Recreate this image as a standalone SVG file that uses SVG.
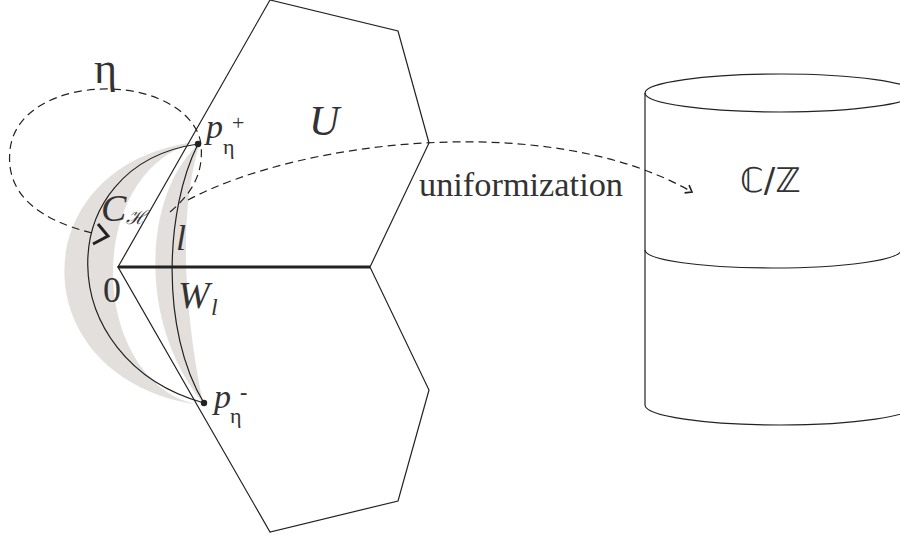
<svg xmlns="http://www.w3.org/2000/svg" width="900" height="537" viewBox="0 0 900 537">
<style>
.ln{fill:none;stroke:#222;stroke-width:1.2}
.dash{fill:none;stroke:#222;stroke-width:1.2;stroke-dasharray:8 5}
.band{fill:#e3dfdc;stroke:none}
text{font-family:"Liberation Serif","DejaVu Serif",serif;fill:#333}
.i{font-style:italic}
.dj{font-family:"DejaVu Serif",serif}
.ds{font-family:"DejaVu Sans",sans-serif}
</style>
<defs>
<marker id="chev" markerWidth="12" markerHeight="12" refX="9" refY="6" orient="auto" markerUnits="userSpaceOnUse">
<path d="M3,1.5 L9,6 L3,10.5" fill="none" stroke="#222" stroke-width="1.6"/>
</marker>
</defs>
<g id="bands">
<path class="band" d="M195,142 C20,165 20,380 200,405 C90,385 80,175 195,142 Z"/>
<path class="band" d="M200,143 C145,190 135,320 203,403 C188,330 175,220 200,143 Z"/>
</g>
<g id="hexagon-U">
<polygon class="ln" points="118,267 270,0 398,31 429,143 370,267"/>
</g>
<g id="hexagon-lower">
<polygon class="ln" points="118,267 370,267 429,390 398,501 270,532"/>
</g>
<g id="segment">
<line x1="118" y1="267" x2="370" y2="267" stroke="#222" stroke-width="3"/>
</g>
<g id="cylinder">
<ellipse class="ln" cx="780" cy="93" rx="135" ry="19"/>
<line class="ln" x1="645" y1="93" x2="645" y2="405"/>
<path class="ln" d="M645,250 A128,18 0 0 0 901,250"/>
<path class="ln" d="M645,405 A135,20 0 0 0 915,405"/>
</g>
<g id="connectors">
<path class="ln" d="M198,144 C50,165 50,360 204,403"/>
<path class="ln" d="M198,144 C165,210 160,330 204,403"/>
<path d="M98,224 L108,236 L93,244" fill="none" stroke="#222" stroke-width="3"/>
<path class="dash" d="M92,233 C40,220 5,195 10,150 C14,110 60,88 110,89 C160,90 198,115 201,145 C204,175 190,195 170,212"/>
<path class="dash" d="M188,200 C300,140 550,110 692,192" marker-end="url(#chev)"/>
<circle cx="198" cy="144" r="3.2" fill="#222"/>
<circle cx="204" cy="403" r="3.2" fill="#222"/>
</g>
<g id="labels">
<text x="94" y="83" font-size="44">η</text>
<text class="i" x="206" y="138" font-size="34">p</text>
<text x="223" y="154" font-size="22">η</text>
<text x="232" y="130" font-size="22">+</text>
<text class="i" x="214" y="408" font-size="34">p</text>
<text x="230" y="423" font-size="22">η</text>
<text x="240" y="399" font-size="22" font-weight="bold">-</text>
<text class="i" x="309" y="135" font-size="42">U</text>
<text class="i" x="101" y="221" font-size="38">C</text>
<text class="i dj" x="126" y="224" font-size="19">ℋ</text>
<text class="i" x="176" y="250" font-size="36">l</text>
<text x="103" y="302" font-size="36">0</text>
<text class="i" x="178" y="308" font-size="38">W</text>
<text class="i" x="211" y="315" font-size="24">l</text>
<text x="419" y="196" font-size="33" textLength="204" lengthAdjust="spacingAndGlyphs">uniformization</text>
<text class="ds" x="740" y="192" font-size="34">ℂ/ℤ</text>
</g>
</svg>
